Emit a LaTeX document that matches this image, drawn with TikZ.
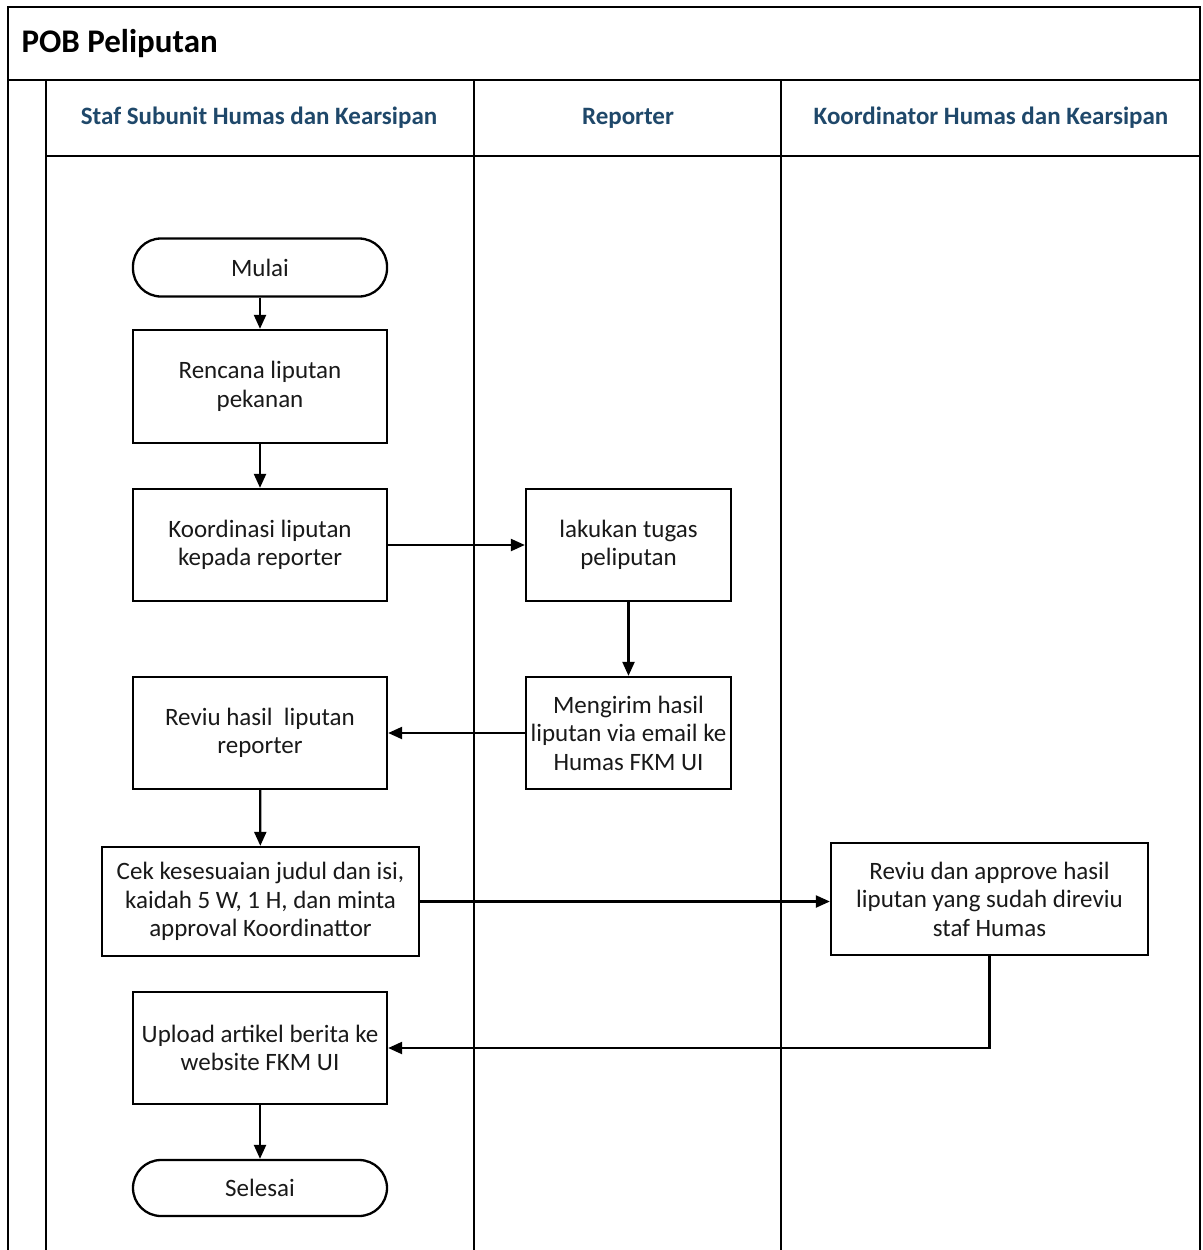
\documentclass[tikz,border=0pt]{standalone}
\usepackage{fontspec}
\setmainfont{Carlito}
\usetikzlibrary{arrows.meta}
\definecolor{hdrblue}{RGB}{31,72,106}
\definecolor{txt}{RGB}{25,25,25}
\tikzset{
  frame/.style={line width=2.6pt, draw=black},
  procbox/.style={draw=black, line width=2.3pt, rectangle, minimum width=254pt, minimum height=112pt, align=center, text=txt, font=\fontsize{25}{28.5}\selectfont, inner sep=1pt},
  termbox/.style={draw=black, line width=2.3pt, rectangle, rounded corners=28pt, minimum width=254pt, minimum height=58pt, align=center, text=txt, font=\fontsize{25}{28.5}\selectfont},
  lanehdr/.style={text=hdrblue, font=\bfseries\fontsize{25}{28}\selectfont, anchor=center},
  conn/.style={line width=2.2pt, -{Triangle[length=14pt,width=12pt]}},
}
\begin{document}
\begin{tikzpicture}[x=1pt,y=-1pt]
\useasboundingbox (0,0) rectangle (1202,1250);
% frame
\draw[frame] (8,1250) -- (8,7) -- (1200,7) -- (1200,1250);
\draw[frame] (8,80) -- (1200,80);
\draw[frame] (46,80) -- (46,1250);
\draw[frame] (46,156) -- (1200,156);
\draw[frame] (474,80) -- (474,1250);
\draw[frame] (781,80) -- (781,1250);
\node[anchor=west, font=\bfseries\fontsize{33}{38}\selectfont] (title) at (18,44) {POB Peliputan};
\node[lanehdr] (l1) at (259,118) {Staf Subunit Humas dan Kearsipan};
\node[lanehdr] (l2) at (628,118) {Reporter};
\node[lanehdr] (l3) at (991,118) {Koordinator Humas dan Kearsipan};
% nodes
\node[termbox] (mulai) at (260,267.5) {Mulai};
\node[procbox, minimum height=113pt] (rencana) at (260,386.5) {Rencana liputan\\pekanan};
\node[procbox] (koord) at (260,545) {Koordinasi liputan\\kepada reporter};
\node[procbox, minimum width=205pt] (lakukan) at (628.5,545) {lakukan tugas\\peliputan};
\node[procbox, minimum width=205pt] (kirim) at (628.5,733) {Mengirim hasil\\liputan via email ke\\Humas FKM UI};
\node[procbox] (reviu) at (260,733) {Reviu hasil\ \ liputan\\reporter};
\node[procbox, minimum width=317pt, minimum height=109pt] (cek) at (260.5,901.5) {Cek kesesuaian judul dan isi,\\kaidah 5 W, 1 H, dan minta\\approval Koordinattor};
\node[procbox, minimum width=317pt] (approve) at (989.5,899) {Reviu dan approve hasil\\liputan yang sudah direviu\\staf Humas};
\node[procbox] (upload) at (260,1048) {Upload artikel berita ke\\website FKM UI};
\node[termbox, minimum height=56pt] (selesai) at (260,1188) {Selesai};
% connectors
\draw[conn] (mulai) -- (rencana);
\draw[conn] (rencana) -- (koord);
\draw[conn] (koord) -- (lakukan);
\draw[conn] (lakukan) -- (kirim);
\draw[conn] (kirim) -- (reviu);
\draw[conn] (reviu) -- (cek);
\draw[conn] (cek.east) -- (cek.east -| approve.west);
\draw[conn] (approve.south) |- (upload.east);
\draw[conn] (upload) -- (selesai);
\end{tikzpicture}
\end{document}
